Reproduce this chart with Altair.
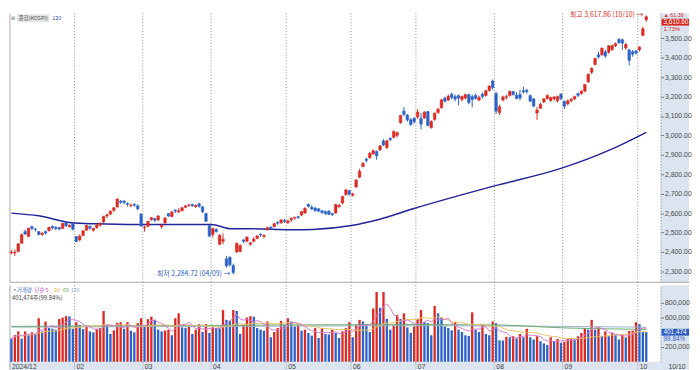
import altair as alt
import pandas as pd

# ---------------- data ----------------
trading_days = [
    (2024, 12, [30]),
    (2025, 1, [2, 3, 6, 7, 8, 9, 10, 13, 14, 15, 16, 17, 20, 21, 22, 23, 24, 31]),
    (2025, 2, [3, 4, 5, 6, 7, 10, 11, 12, 13, 14, 17, 18, 19, 20, 21, 24, 25, 26, 27, 28]),
    (2025, 3, [4, 5, 6, 7, 10, 11, 12, 13, 14, 17, 18, 19, 20, 21, 24, 25, 26, 27, 28, 31]),
    (2025, 4, [1, 2, 3, 4, 7, 8, 9, 10, 11, 14, 15, 16, 17, 18, 21, 22, 23, 24, 25, 28, 29, 30]),
    (2025, 5, [2, 7, 8, 9, 12, 13, 14, 15, 16, 19, 20, 21, 22, 23, 26, 27, 28, 29, 30]),
    (2025, 6, [2, 4, 5, 9, 10, 11, 12, 13, 16, 17, 18, 19, 20, 23, 24, 25, 26, 27, 30]),
    (2025, 7, [1, 2, 3, 4, 7, 8, 9, 10, 11, 14, 15, 16, 17, 18, 21, 22, 23, 24, 25, 28, 29, 30, 31]),
    (2025, 8, [1, 4, 5, 6, 7, 8, 11, 12, 13, 14, 18, 19, 20, 21, 22, 25, 26, 27, 28, 29]),
    (2025, 9, [1, 2, 3, 4, 5, 8, 9, 10, 11, 12, 15, 16, 17, 18, 19, 22, 23, 24, 25, 26, 29, 30]),
    (2025, 10, [1, 2, 10]),
]

opens = [2396, 2395, 2402, 2445, 2505, 2480, 2530, 2518, 2505, 2490, 2505, 2510, 2532, 2527, 2525, 2520, 2550, 2530, 2545,
         2480, 2462, 2485, 2512, 2532, 2512, 2525, 2538, 2555, 2585, 2595, 2615, 2632, 2662, 2662, 2650, 2638, 2645, 2638, 2595,
         2525, 2532, 2566, 2572, 2565, 2530, 2550, 2598, 2582, 2615, 2605, 2612, 2630, 2640, 2645, 2632, 2648, 2632, 2598, 2535,
         2490, 2516, 2440, 2455, 2365, 2372, 2330, 2400, 2402, 2462, 2455, 2440, 2455, 2470, 2492, 2480, 2515, 2528, 2530, 2552, 2550, 2562,
         2550, 2565, 2575, 2582, 2590, 2600, 2645, 2630, 2626, 2622, 2612, 2608, 2610, 2597, 2600, 2632, 2652, 2695, 2715,
         2692, 2735, 2785, 2840, 2878, 2885, 2905, 2918, 2925, 2972, 2938, 2985, 2990, 3000, 3065, 3125, 3105, 3080, 3088,
         3095, 3088, 3090, 3123, 3040, 3082, 3118, 3142, 3192, 3182, 3212, 3200, 3205, 3185, 3192, 3210, 3200, 3205, 3182, 3212, 3205, 3232, 3280,
         3215, 3118, 3182, 3195, 3205, 3225, 3207, 3210, 3230, 3232, 3205, 3188, 3115, 3140, 3172, 3190, 3180, 3188, 3178, 3212,
         3175, 3162, 3178, 3188, 3215, 3215, 3228, 3275, 3325, 3365, 3415, 3415, 3430, 3428, 3442, 3462, 3495, 3492, 3450, 3440, 3430, 3435,
         3440, 3515, 3595]
highs = [2410, 2412, 2445, 2495, 2515, 2525, 2536, 2525, 2508, 2502, 2510, 2530, 2536, 2532, 2530, 2550, 2553, 2542, 2548,
         2482, 2490, 2512, 2540, 2536, 2525, 2545, 2552, 2586, 2596, 2614, 2632, 2676, 2667, 2668, 2655, 2650, 2652, 2645, 2600,
         2535, 2560, 2580, 2576, 2590, 2545, 2580, 2600, 2610, 2620, 2625, 2630, 2642, 2645, 2648, 2645, 2652, 2636, 2602, 2538,
         2525, 2522, 2492, 2495, 2380, 2378, 2340, 2448, 2440, 2466, 2480, 2452, 2475, 2485, 2496, 2490, 2530, 2532, 2550, 2558, 2568, 2570,
         2565, 2578, 2582, 2586, 2610, 2630, 2650, 2640, 2632, 2626, 2616, 2614, 2615, 2602, 2648, 2648, 2690, 2725, 2720,
         2705, 2775, 2828, 2862, 2885, 2915, 2928, 2922, 2950, 2980, 2978, 2990, 3025, 3020, 3105, 3145, 3110, 3090, 3095,
         3135, 3115, 3125, 3125, 3078, 3118, 3142, 3188, 3200, 3210, 3220, 3210, 3210, 3205, 3215, 3215, 3210, 3215, 3205, 3220, 3235, 3258, 3288,
         3225, 3158, 3205, 3210, 3230, 3230, 3222, 3235, 3250, 3240, 3210, 3192, 3145, 3168, 3192, 3212, 3200, 3202, 3205, 3218,
         3180, 3185, 3192, 3205, 3220, 3232, 3265, 3318, 3350, 3400, 3430, 3452, 3440, 3465, 3468, 3478, 3500, 3498, 3475, 3445, 3440, 3440,
         3458, 3560, 3617.86]
lows = [2388, 2380, 2400, 2443, 2487, 2478, 2512, 2505, 2485, 2482, 2490, 2505, 2515, 2512, 2512, 2518, 2530, 2525, 2510,
        2450, 2455, 2480, 2508, 2515, 2505, 2520, 2530, 2550, 2575, 2590, 2605, 2628, 2648, 2645, 2635, 2630, 2632, 2615, 2530,
        2505, 2528, 2560, 2555, 2558, 2520, 2545, 2580, 2578, 2600, 2603, 2610, 2625, 2632, 2632, 2628, 2628, 2600, 2555, 2480,
        2475, 2500, 2435, 2440, 2320, 2325, 2284.72, 2395, 2398, 2445, 2450, 2432, 2450, 2465, 2478, 2470, 2510, 2515, 2528, 2540, 2545, 2550,
        2545, 2555, 2565, 2570, 2585, 2598, 2628, 2615, 2608, 2605, 2595, 2590, 2590, 2585, 2598, 2628, 2645, 2690, 2690,
        2685, 2730, 2780, 2835, 2860, 2880, 2900, 2875, 2920, 2945, 2930, 2970, 2985, 2990, 3060, 3100, 3070, 3050, 3060,
        3085, 3030, 3085, 3048, 3035, 3075, 3110, 3138, 3170, 3178, 3185, 3175, 3155, 3175, 3185, 3160, 3145, 3185, 3175, 3190, 3200, 3225, 3235,
        3110, 3105, 3175, 3185, 3200, 3205, 3185, 3180, 3215, 3215, 3170, 3145, 3080, 3135, 3165, 3185, 3172, 3180, 3170, 3180,
        3135, 3155, 3170, 3182, 3198, 3210, 3222, 3270, 3315, 3360, 3395, 3410, 3400, 3420, 3435, 3455, 3470, 3440, 3440, 3360, 3405, 3415,
        3432, 3510, 3585]
closes = [2399, 2399, 2442, 2489, 2492, 2522, 2521, 2516, 2490, 2497, 2497, 2527, 2524, 2520, 2518, 2547, 2534, 2537, 2517,
          2454, 2482, 2509, 2537, 2522, 2521, 2539, 2548, 2583, 2591, 2610, 2627, 2672, 2655, 2655, 2645, 2641, 2641, 2622, 2533,
          2528, 2558, 2576, 2563, 2585, 2537, 2575, 2585, 2606, 2610, 2612, 2628, 2637, 2643, 2638, 2640, 2635, 2607, 2558, 2481,
          2521, 2505, 2486, 2465, 2328, 2334, 2294, 2445, 2433, 2455, 2477, 2447, 2466, 2483, 2488, 2486, 2525, 2522, 2546, 2548, 2565, 2556,
          2560, 2573, 2578, 2577, 2608, 2625, 2635, 2621, 2612, 2610, 2603, 2598, 2593, 2592, 2644, 2640, 2685, 2720, 2697,
          2698, 2770, 2815, 2856, 2871, 2908, 2921, 2895, 2946, 2951, 2972, 2978, 3021, 3014, 3103, 3108, 3079, 3055, 3071,
          3120, 3058, 3120, 3050, 3072, 3114, 3135, 3183, 3176, 3202, 3195, 3187, 3192, 3200, 3210, 3169, 3184, 3190, 3196, 3200, 3230, 3254, 3245,
          3125, 3147, 3198, 3199, 3227, 3210, 3190, 3192, 3224, 3225, 3177, 3151, 3130, 3160, 3188, 3205, 3195, 3198, 3200, 3190,
          3150, 3178, 3186, 3200, 3206, 3228, 3262, 3315, 3345, 3396, 3404, 3449, 3408, 3461, 3462, 3472, 3478, 3475, 3468, 3386, 3418, 3424,
          3455, 3549.21, 3610.60]
# volume, thousand shares
volumes_k = [316, 360, 413, 316, 413, 360, 400, 380, 591, 413, 547, 458, 450, 436, 580, 600, 620, 616, 448,
             538, 500, 444, 489, 413, 400, 448, 458, 690, 502, 378, 427, 529, 538, 448, 538, 422, 400, 525, 591,
             489, 578, 613, 569, 436, 413, 425, 436, 360, 591, 658, 467, 460, 502, 378, 436, 511, 404, 511, 391,
             467, 460, 455, 702, 569, 560, 702, 690, 378, 502, 600, 620, 613, 458, 436, 422, 547, 333, 404, 458, 556, 502,
             591, 547, 480, 502, 422, 436, 391, 356, 458, 324, 458, 378, 370, 436, 391, 324, 413, 458, 538,
             333, 502, 569, 547, 511, 404, 724, 947, 733, 947, 582, 436, 489, 636, 582, 658, 467, 391, 480,
             582, 702, 538, 525, 360, 760, 658, 600, 480, 458, 427, 538, 436, 404, 360, 350, 671, 436, 404, 502, 378, 360, 547,
             524, 291, 289, 338, 333, 347, 316, 378, 333, 448, 333, 302, 347, 280, 249, 227, 333, 280, 311, 258,
             271, 316, 324, 302, 347, 391, 458, 436, 569, 436, 458, 347, 413, 347, 391, 360, 302, 369, 330, 418, 422, 538,
             511, 402.1, 401.474]

# 120-day moving average of the index, read at sample points (candle index, value)
ma120_idx = [0, 8, 18.5, 27.7, 38.5, 58.5, 64.7, 70.4, 81.8, 88.3, 99.6, 107.4, 118.2, 141.5, 161, 175.7, 186]
ma120_val = [2600, 2586, 2549, 2544, 2541, 2541, 2519, 2519, 2514, 2516, 2536, 2566, 2625, 2740, 2830, 2928, 3016]

# long volume averages, read at sample points (thousand shares)
vma60_idx = [0, 40, 80, 120, 142, 162, 186]
vma60_val = [480, 490, 500, 505, 500, 460, 440]
vma120_idx = [0, 60, 120, 186]
vma120_val = [470, 480, 490, 470]

axis_month_labels = ["2024/12", "02", "03", "04", "05", "06", "07", "08", "09", "10"]
axis_month_keys = [(2024, 12), (2025, 2), (2025, 3), (2025, 4), (2025, 5), (2025, 6),
                   (2025, 7), (2025, 8), (2025, 9), (2025, 10)]

# ---------------- frames ----------------
dates = [(y, m, d) for y, m, ds in trading_days for d in ds]
n = len(closes)
df = pd.DataFrame({
    "idx": list(range(n)), "open": opens, "high": highs, "low": lows, "close": closes,
    "vol": [v * 1000 for v in volumes_k],
})
df["dir"] = ["up" if c >= o else "down" for o, c in zip(opens, closes)]
df["vdir"] = ["up" if i > 0 and df.vol[i] >= df.vol[i - 1] else "down" for i in range(n)]
df["x0"] = df.idx - 0.38
df["x1"] = df.idx + 0.38
df["b0"] = df.idx - 0.34
df["b1"] = df.idx + 0.34
df["zero"] = 0

first_idx = {}
for i, (y, m, d) in enumerate(dates):
    first_idx.setdefault((y, m), i)
mdf = pd.DataFrame({
    "label": axis_month_labels,
    "pos": [max(first_idx[k] - 0.5, -0.43) for k in axis_month_keys],
})
rules_df = mdf.iloc[1:]

ma_df = pd.DataFrame({"idx": ma120_idx, "ma": ma120_val})
v60 = pd.DataFrame({"idx": vma60_idx, "v": [v * 1000 for v in vma60_val]})
v120 = pd.DataFrame({"idx": vma120_idx, "v": [v * 1000 for v in vma120_val]})

# ---------------- style ----------------
W, HP, HV, SW, SB = 663, 274, 78, 29, 9
RED, BLUE, NAVY = "#dc2a22", "#2c62c8", "#23239a"
STRIPC = "#dbe4ef"
NUMF = "Liberation Sans Narrow, Liberation Sans, Arial, sans-serif"
KRF = "Noto Sans CJK KR"

xs = alt.Scale(domain=[-0.43, 190.2], nice=False, zero=False)
ys = alt.Scale(domain=[2244, 3628], nice=False, zero=False)
vs = alt.Scale(domain=[0, 1040000], nice=False, zero=False)
cs = alt.Scale(domain=["up", "down"], range=[RED, BLUE])

pax = alt.Axis(orient="right", values=[2300 + 100 * i for i in range(13)], format=",.2f",
               labelFontSize=7, labelColor="#4a4a4a", labelFont=NUMF, labelPadding=1,
               tickSize=3, tickColor="#777", domainColor="#888", domainDash=[1, 2],
               grid=False, title=None, zindex=1)
vax = alt.Axis(orient="right", values=[200000, 600000, 800000], format=",d",
               labelFontSize=7, labelColor="#4a4a4a", labelFont=NUMF, labelPadding=1,
               tickSize=3, tickColor="#777", domainColor="#888", domainDash=[1, 2],
               grid=False, title=None, zindex=1)

X = lambda f: alt.X(f, type="quantitative", scale=xs, axis=None)
PY = lambda f: alt.Y(f, type="quantitative", scale=ys, axis=pax)
VY = lambda f: alt.Y(f, type="quantitative", scale=vs, axis=vax)
one = pd.DataFrame({"a": [0]})

# ---------------- price panel ----------------
strip_p = alt.Chart(one).mark_rect(color=STRIPC).encode(
    x=alt.value(W), x2=alt.value(W + SW), y=alt.value(0), y2=alt.value(HP))
rules_p = alt.Chart(rules_df).mark_rule(color="#8a8a8a", strokeDash=[1, 2], strokeWidth=1).encode(x=X("pos"))
left_p = alt.Chart(one).mark_rule(color="#a8a8a8").encode(x=alt.value(0), y=alt.value(0), y2=alt.value(HP))
sep_p = alt.Chart(one).mark_rule(color="#a8a8a8").encode(x=alt.value(0), x2=alt.value(W + SW), y=alt.value(HP))
wick = alt.Chart(df).mark_rule(strokeWidth=1).encode(
    x=X("idx"), y=PY("low"), y2="high", color=alt.Color("dir:N", scale=cs, legend=None))
body = alt.Chart(df).mark_rect(strokeWidth=0.5).encode(
    x=X("x0"), x2="x1", y=PY("open"), y2="close",
    color=alt.Color("dir:N", scale=cs, legend=None), stroke=alt.Stroke("dir:N", scale=cs, legend=None))
ma_line = alt.Chart(ma_df).mark_line(color=NAVY, strokeWidth=1.5, interpolate="monotone").encode(
    x=X("idx"), y=PY("ma"))

hi_i = max(range(n), key=lambda i: highs[i])
lo_i = min(range(n), key=lambda i: lows[i])
ann = pd.DataFrame({
    "idx": [hi_i, lo_i],
    "y": [highs[hi_i], lows[lo_i]],
    "label": [f"최고 {highs[hi_i]:,.2f} ({dates[hi_i][1]:02d}/{dates[hi_i][2]:02d}) →",
              f"최저 {lows[lo_i]:,.2f} ({dates[lo_i][1]:02d}/{dates[lo_i][2]:02d}) →"],
    "kind": ["hi", "lo"],
})
ann_t = alt.Chart(ann).mark_text(align="right", baseline="middle", dx=-3, fontSize=7, font=KRF).encode(
    x=X("idx"), y=PY("y"), text="label:N",
    color=alt.Color("kind:N", scale=alt.Scale(domain=["hi", "lo"], range=["#b83a32", "#2c3588"]), legend=None))

chg = closes[-1] - closes[-2]
pct = chg / closes[-2] * 100
last = pd.DataFrame({"v": [closes[-1]], "t": [f"{closes[-1]:,.2f}"],
                     "c": [f"▲ {chg:,.2f}"], "p": [f"{pct:.2f}%"]})
box_p = alt.Chart(last).mark_rect(color="#d9261c", yOffset=2, y2Offset=9).encode(
    x=alt.value(W + 1), x2=alt.value(W + SW), y=PY("v"), y2="v")
box_pt = alt.Chart(last).mark_text(color="white", align="left", baseline="middle", dy=5.5, fontSize=6.5, font=NUMF).encode(
    x=alt.value(W + 3), y=PY("v"), text="t:N")
chg_t = alt.Chart(last).mark_text(color="#d9261c", align="left", baseline="top", fontSize=5.5, font=NUMF).encode(
    x=alt.value(W + 3), y=alt.value(0), text="c:N")
pct_t = alt.Chart(last).mark_text(color="#d9261c", align="left", baseline="top", fontSize=6, font=NUMF, dy=9.5).encode(
    x=alt.value(W + 3), y=PY("v"), text="p:N")

leg_box = alt.Chart(one).mark_rect(color="#e4e4e4").encode(
    x=alt.value(7), x2=alt.value(40), y=alt.value(1), y2=alt.value(9))
leg_p = alt.Chart(pd.DataFrame({"t": ["⊞", "종합(KOSPI)", "120"], "x": [1, 9, 43], "c": ["#777", "#555", "#4040b0"]})).mark_text(
    align="left", baseline="middle", fontSize=5.5, font=KRF).encode(
    x=alt.X("x:Q", scale=None, axis=None), y=alt.value(5), text="t:N", color=alt.Color("c:N", scale=None))

price = alt.layer(strip_p, rules_p, left_p, sep_p, ma_line, wick, body, ann_t, leg_box, leg_p,
                  box_p, box_pt, chg_t, pct_t).properties(width=W, height=HP)

# ---------------- volume panel ----------------
strip_v = alt.Chart(one).mark_rect(color=STRIPC).encode(
    x=alt.value(W), x2=alt.value(W + SW), y=alt.value(0), y2=alt.value(HV))
strip_b = alt.Chart(one).mark_rect(color=STRIPC).encode(
    x=alt.value(0), x2=alt.value(W + SW), y=alt.value(HV), y2=alt.value(HV + SB))
rules_v = alt.Chart(rules_df).mark_rule(color="#8a8a8a", strokeDash=[1, 2], strokeWidth=1).encode(
    x=X("pos"), y=alt.value(0), y2=alt.value(HV + SB))
left_v = alt.Chart(one).mark_rule(color="#a8a8a8").encode(x=alt.value(0), y=alt.value(0), y2=alt.value(HV + SB))
bars = alt.Chart(df).mark_rect().encode(
    x=X("b0"), x2="b1", y=VY("vol"), y2="zero",
    color=alt.Color("vdir:N", scale=cs, legend=None))
ma5 = alt.Chart(df).transform_window(m="mean(vol)", frame=[-4, 0], sort=[alt.SortField("idx")]).mark_line(
    color="#d67ad0", strokeWidth=1).encode(x=X("idx"), y=VY("m"))
ma20 = alt.Chart(df).transform_window(m="mean(vol)", frame=[-19, 0], sort=[alt.SortField("idx")]).mark_line(
    color="#e8c46a", strokeWidth=1).encode(x=X("idx"), y=VY("m"))
ma60 = alt.Chart(v60).mark_line(color="#6aa86a", strokeWidth=1, interpolate="monotone").encode(x=X("idx"), y=VY("v"))
ma120v = alt.Chart(v120).mark_line(color="#9db4cc", strokeWidth=1, interpolate="monotone").encode(x=X("idx"), y=VY("v"))

mlab = alt.Chart(mdf).mark_text(align="left", baseline="middle", dx=2, fontSize=7, font=NUMF, color="#444").encode(
    x=X("pos"), y=alt.value(HV + 5), text="label:N")
date_t = alt.Chart(pd.DataFrame({"t": [f"{dates[-1][1]:02d}/{dates[-1][2]:02d}"]})).mark_text(
    align="left", baseline="middle", fontSize=7, font=NUMF, color="#444").encode(
    x=alt.value(W + 8), y=alt.value(HV + 5), text="t:N")

vol_last = df.vol.iloc[-1]
vol_ratio = df.vol.iloc[-1] / df.vol.iloc[-2] * 100
vlast = pd.DataFrame({"v": [vol_last], "t": [f"{vol_last:,.0f}"], "p": [f"{vol_ratio:.2f}%"]})
box_v = alt.Chart(vlast).mark_rect(color="#2b5bbd", yOffset=-3.5, y2Offset=3.5).encode(
    x=alt.value(W + 1), x2=alt.value(W + SW), y=VY("v"), y2="v")
box_vt = alt.Chart(vlast).mark_text(color="white", align="left", baseline="middle", fontSize=6.5, font=NUMF).encode(
    x=alt.value(W + 3), y=VY("v"), text="t:N")
pct_v = alt.Chart(vlast).mark_text(color="#2b5bbd", align="left", baseline="top", dy=4, fontSize=6.5, font=NUMF).encode(
    x=alt.value(W + 3), y=VY("v"), text="p:N")

leg_v = alt.Chart(pd.DataFrame({
    "t": ["▪", "거래량", "단순 5", "20", "60", "120"],
    "x": [2, 7, 25, 45, 54, 62],
    "c": ["#777", "#3a6ac8", "#c050c0", "#d8b040", "#50a050", "#90a8c8"],
})).mark_text(align="left", baseline="middle", fontSize=5.5, font=KRF).encode(
    x=alt.X("x:Q", scale=None, axis=None), y=alt.value(5), text="t:N", color=alt.Color("c:N", scale=None))
leg_v2 = alt.Chart(pd.DataFrame({"t": [f"{vol_last:,.0f}주({vol_ratio:.2f}%)"]})).mark_text(
    align="left", baseline="middle", fontSize=6, font=KRF, color="#444").encode(
    x=alt.value(2), y=alt.value(13), text="t:N")

volume = alt.layer(strip_v, strip_b, rules_v, left_v, bars, ma120v, ma60, ma20, ma5, mlab, date_t,
                   box_v, box_vt, pct_v, leg_v, leg_v2).properties(width=W, height=HV)

chart = alt.vconcat(price, volume, spacing=1).properties(padding=0).configure_view(stroke=None)
chart.save("out.html", embed_options={"renderer": "svg", "actions": False})
